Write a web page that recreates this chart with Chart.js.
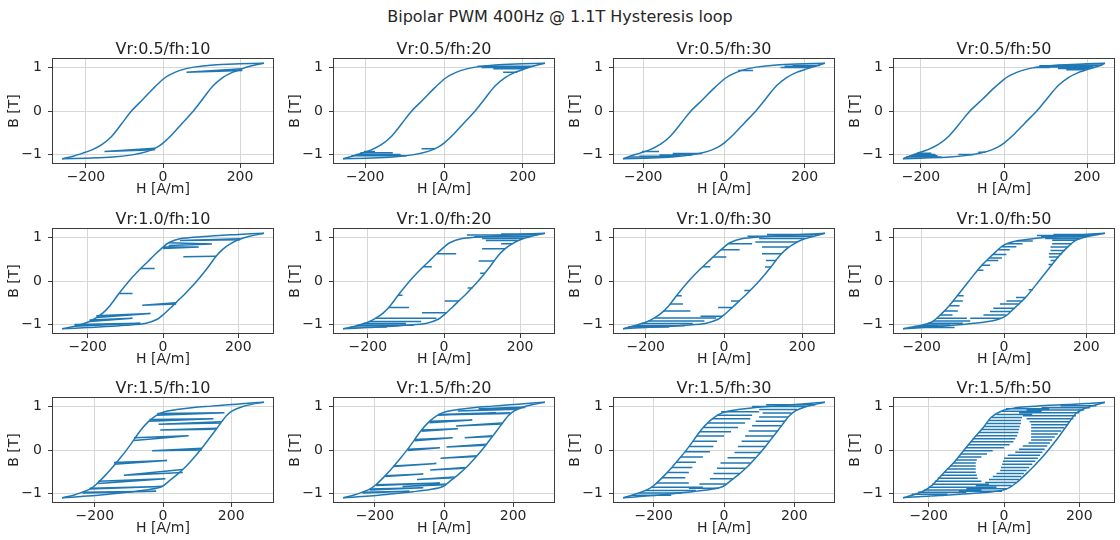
<!DOCTYPE html>
<html>
<head>
<meta charset="utf-8">
<title>Bipolar PWM 400Hz @ 1.1T Hysteresis loop</title>
<script src="https://cdn.jsdelivr.net/npm/chart.js@4.4.1/dist/chart.umd.min.js"></script>
<style>
  html, body { margin: 0; padding: 0; background: #fff; }
  body { width: 1120px; height: 540px; position: relative; overflow: hidden; font-family: "DejaVu Sans", sans-serif; }
  #suptitle { position: absolute; left: 0; top: 8px; width: 1120px; text-align: center; font-size: 16px; line-height: 18px; color: #262626; }
  .panel { position: absolute; }
</style>
</head>
<body>
<div id="suptitle">Bipolar PWM 400Hz @ 1.1T Hysteresis loop</div>
<script>
// ---------------- grid of runs ----------------
const vrLevels = ['0.5', '1.0', '1.5'];
const fhLevels = [10, 20, 30, 50];
const peakB = 1.1;                                   // loop tip flux density [T]
const peakH = [[262, 256, 250, 243],                 // loop tip field strength [A/m]
               [268, 265, 258, 245],
               [296, 292, 287, 268]];
const xTicks = [-200, 0, 200];
const yTicks = [-1, 0, 1];

// ---------------- major loop branches (H [A/m], B [T]) ----------------
const rise05H = [-200, -130, -80, -40, -15, 0, 25, 50, 79, 105, 130, 155, 180, 205, 230];
const rise05B = [-1.085, -1.06, -1.01, -0.93, -0.83, -0.74, -0.53, -0.28, 0, 0.30, 0.58, 0.77, 0.89, 0.97, 1.04];
const fall05H = [200, 130, 80, 42, 17, 0, -25, -52, -82, -108, -133, -158, -183, -208, -233];
const fall05B = [1.085, 1.06, 1.01, 0.93, 0.83, 0.73, 0.52, 0.27, 0, -0.30, -0.58, -0.77, -0.89, -0.97, -1.04];

const rise10H = [-200, -150, -100, -45, -15, 0, 20, 40, 60, 90, 118, 141, 160, 180, 200, 230];
const rise10B = [-1.07, -1.05, -1.02, -0.97, -0.88, -0.78, -0.62, -0.45, -0.28, 0, 0.30, 0.57, 0.74, 0.86, 0.95, 1.03];
const fall10H = [200, 150, 100, 45, 15, 0, -20, -40, -60, -90, -118, -141, -160, -180, -200, -230];
const fall10B = [1.07, 1.05, 1.02, 0.97, 0.88, 0.78, 0.62, 0.45, 0.28, 0, -0.30, -0.57, -0.74, -0.86, -0.95, -1.03];

const rise10nH = [-200, -150, -100, -60, -30, -10, 5, 20, 35, 55, 85, 110, 133, 150, 173, 200];
const rise10nB = [-1.07, -1.04, -1.0, -0.96, -0.92, -0.87, -0.80, -0.67, -0.54, -0.35, 0, 0.30, 0.57, 0.74, 0.93, 1.02];
const fall10nH = [200, 150, 100, 60, 30, 10, -5, -20, -35, -55, -85, -110, -133, -150, -173, -200];
const fall10nB = [1.07, 1.04, 1.0, 0.96, 0.92, 0.87, 0.80, 0.67, 0.54, 0.35, 0, -0.30, -0.57, -0.74, -0.93, -1.02];

const rise15H = [-240, -190, -140, -90, -40, -3, 20, 42, 62, 88, 114, 140, 160, 173, 186, 203, 230, 260];
const rise15B = [-1.07, -1.04, -1.0, -0.96, -0.91, -0.84, -0.70, -0.56, -0.42, -0.20, 0.04, 0.31, 0.52, 0.66, 0.79, 0.90, 0.99, 1.05];
const fall15H = [240, 190, 140, 90, 40, 5, -17, -42, -65, -85, -105, -125, -146, -170, -197, -215, -236, -262];
const fall15B = [1.07, 1.04, 1.01, 0.98, 0.93, 0.88, 0.81, 0.66, 0.46, 0.24, 0.02, -0.18, -0.38, -0.59, -0.80, -0.90, -0.97, -1.04];

const rise15nH = [-220, -170, -120, -70, -30, 6, 32, 66, 95, 118, 145, 170, 191, 215, 240];
const rise15nB = [-1.07, -1.05, -1.02, -0.99, -0.96, -0.90, -0.76, -0.49, -0.23, 0, 0.30, 0.60, 0.84, 0.96, 1.03];
const fall15nH = [220, 170, 120, 70, 30, -3, -33, -55, -80, -106, -130, -158, -192, -215, -240];
const fall15nB = [1.07, 1.05, 1.03, 1.0, 0.97, 0.91, 0.76, 0.52, 0.27, 0, -0.26, -0.51, -0.82, -0.95, -1.03];

// ---------------- PWM minor loops ----------------
// open loops: [H start, B start, H turn, B turn, B return]
// thin loops: [B, H start, H turn]
const loopsV05F10 = [[206, 0.97, 61, 0.89, 0.93], [-20, -0.86, -152, -0.93, -0.89]];
const loopsV05F20 = [[0.97, 205, 125], [1.0, 215, 95], [1.03, 228, 85], [0.89, 186, 150], [-0.87, -22, -57],
  [-0.93, -203, -175], [-0.96, -212, -130], [-1.0, -224, -110], [-1.03, -235, -95]];
const loopsV05F30 = [[0.93, 35, 72], [1.0, 215, 140], [1.03, 228, 150], [1.05, 238, 170], [-0.93, -203, -161],
  [-0.98, -55, -127], [-1.01, -80, -160], [-1.04, -110, -210], [-1.06, -238, -140]];
const loopsV05F50 = [[0.95, 195, 150], [0.98, 207, 130], [1.01, 215, 100], [1.04, 228, 85], [1.06, 236, 160], [1.0, 72, 110],
  [-1.06, -236, -150], [-1.03, -228, -160], [-1.0, -218, -165], [-0.97, -210, -175], [-1.0, -72, -110], [-0.95, -45, -62]];

const loopsV10F10 = [[15, 0.88, 130, 0.85, 0.82], [0, 0.78, 95, 0.78, 0.75], [205, 0.97, 45, 0.93, 0.95],
  [141, 0.57, 54, 0.56, 0.57], [-59, 0.29, -22, 0.29, 0.29], [-116, -0.29, -81, -0.29, -0.29],
  [35, -0.50, -55, -0.56, -0.53], [-177, -0.84, -33, -0.75, -0.80], [-195, -0.93, -81, -0.86, -0.90],
  [-235, -1.04, -60, -0.97, -1.0]];
const loopsV10F20 = [[0.63, -19, 32], [0.33, -55, -32], [-0.33, -121, -109], [-0.61, -145, -92], [-0.86, -180, -20],
  [-0.93, -196, -60], [-0.98, -212, -100], [-1.02, -228, -80], [-1.06, -245, -150],
  [0.74, 160, 100], [0.46, 132, 91], [0.18, 107, 95], [-0.16, 75, 62], [-0.46, 40, 2], [-0.73, 5, -58],
  [0.86, 180, 150], [0.93, 193, 110], [0.98, 208, 100], [1.02, 225, 80], [1.06, 245, 60], [1.08, 255, 150]];
const loopsV10F30 = [[0.86, 12, 72], [0.72, -8, 40], [0.55, -28, 6], [0.33, -55, -35], [-0.34, -122, -108],
  [-0.53, -138, -105], [-0.69, -155, -86], [-0.85, -178, -20], [-0.92, -193, -50], [-0.98, -210, -80],
  [-1.03, -230, -100], [-1.06, -245, -140],
  [0.98, 208, 90], [0.90, 188, 80], [0.78, 165, 97], [0.63, 147, 97], [0.47, 133, 107], [0.32, 120, 105],
  [-0.22, 67, 52], [-0.46, 40, 18], [-0.61, 22, -15], [-0.81, -5, -60], [1.03, 228, 60], [1.07, 245, 110]];
const loopsV10F50 = [[0.92, 30, 70], [0.86, 8, 45], [0.79, -6, 30], [0.72, -14, 14], [0.61, -27, 6], [0.53, -36, -5],
  [0.47, -42, -14], [0.36, -54, -34], [0.25, -63, -50],
  [-0.34, -113, -98], [-0.46, -124, -100], [-0.57, -133, -108], [-0.69, -145, -112], [-0.78, -155, -125],
  [-0.86, -164, -90], [-0.92, -172, -82], [-0.97, -185, -100], [-1.01, -198, -130], [-1.05, -220, -160], [-1.07, -232, -120],
  [0.94, 175, 117], [0.86, 164, 117], [0.78, 156, 113], [0.70, 148, 113], [0.63, 141, 109], [0.55, 133, 109],
  [0.47, 126, 113], [0.38, 118, 108], [0.98, 185, 100], [1.02, 200, 90], [1.05, 218, 80], [1.07, 230, 120],
  [-0.20, 70, 60], [-0.38, 53, 29], [-0.46, 45, 6], [-0.53, 37, -10], [-0.63, 24, -26], [-0.70, 16, -34],
  [-0.78, 6, -50], [-0.86, -8, -82]];

const loopsV15F10 = [[-17, 0.84, 180, 0.86, 0.80], [-40, 0.70, 148, 0.72, 0.66], [170, 0.65, -13, 0.59, 0.62],
  [158, 0.50, -8, 0.46, 0.48], [-85, 0.22, 75, 0.33, 0.28], [114, 0.04, -32, -0.02, 0.0],
  [-144, -0.33, 12, -0.24, -0.29], [58, -0.45, -115, -0.58, -0.52], [-190, -0.77, 7, -0.66, -0.72],
  [-215, -0.90, -3, -0.84, -0.88], [-236, -0.97, -20, -0.95, -0.99]];
const loopsV15F20 = [[-17, 0.82, 150, 0.86, 0.80], [-42, 0.66, 82, 0.69, 0.63], [-65, 0.46, 40, 0.49, 0.43],
  [-85, 0.24, 25, 0.28, 0.21], [-105, 0.02, -12, 0.05, -0.01], [-146, -0.38, -22, -0.31, -0.37],
  [-170, -0.59, -60, -0.55, -0.61], [-197, -0.80, -12, -0.76, -0.82], [-215, -0.90, -60, -0.87, -0.92],
  [-236, -0.97, -100, -0.95, -0.99],
  [236, 0.98, 100, 0.95, 0.99], [215, 0.94, 40, 0.90, 0.95], [192, 0.84, 10, 0.81, 0.86], [168, 0.60, 35, 0.55, 0.62],
  [140, 0.31, 60, 0.28, 0.33], [121, 0.11, 7, 0.07, 0.13], [95, -0.15, -10, -0.19, -0.13], [62, -0.42, -40, -0.46, -0.40],
  [30, -0.64, -78, -0.68, -0.62], [5, -0.80, -120, -0.84, -0.78]];
const loopsV15F30 = [[0.88, -8, 100], [0.80, -20, 80], [0.72, -33, 75], [0.62, -47, 60], [0.52, -58, 40], [0.42, -69, 20],
  [0.32, -78, 0], [0.20, -89, -20], [0.08, -99, -30], [-0.04, -111, -40], [-0.16, -123, -60], [-0.28, -136, -80],
  [-0.40, -148, -90], [-0.52, -162, -100], [-0.64, -176, -110], [-0.76, -192, -100], [-0.86, -208, -60],
  [-0.93, -225, -80], [-0.99, -242, -120], [-1.04, -262, -150],
  [1.04, 260, 120], [1.0, 232, 80], [0.93, 208, 100], [0.85, 192, 110], [0.76, 182, 100], [0.66, 173, 90],
  [0.56, 164, 80], [0.44, 154, 70], [0.32, 141, 60], [0.20, 128, 50], [0.08, 118, 40], [-0.06, 106, 30],
  [-0.18, 91, 10], [-0.30, 76, -10], [-0.42, 62, -20], [-0.54, 45, -30], [-0.66, 25, -40], [-0.78, 5, -70],
  [-0.88, -15, -100]];
const loopsV15F50 = [[0.95, 5, 120], [0.89, -5, 100], [0.82, -20, 75], [0.75, -33, 48], [0.68, -40, 45], [0.61, -46, 45],
  [0.54, -53, 42], [0.47, -60, 40], [0.40, -67, 38], [0.33, -75, 35], [0.26, -83, 30], [0.19, -90, 25],
  [0.12, -96, 15], [0.05, -102, 0], [-0.02, -108, -30], [-0.09, -115, -45], [-0.16, -122, -60], [-0.23, -128, -72],
  [-0.30, -135, -75], [-0.37, -143, -75], [-0.44, -152, -75], [-0.51, -160, -75], [-0.58, -168, -72],
  [-0.65, -176, -70], [-0.72, -184, -60], [-0.79, -191, -40], [-0.86, -200, -20], [-0.92, -212, -60],
  [-0.97, -228, -100], [-1.02, -245, -150],
  [1.02, 245, 150], [0.97, 228, 100], [0.92, 212, 60], [0.86, 200, 40], [0.79, 191, 50], [0.72, 184, 60],
  [0.65, 176, 68], [0.58, 168, 72], [0.51, 160, 72], [0.44, 152, 72], [0.37, 143, 72], [0.30, 135, 72],
  [0.23, 128, 72], [0.16, 122, 65], [0.09, 115, 50], [0.02, 108, 40], [-0.05, 102, 30], [-0.12, 96, 10],
  [-0.19, 90, 0], [-0.26, 83, -3], [-0.33, 75, -5], [-0.40, 67, -8], [-0.47, 60, -10], [-0.54, 53, -20],
  [-0.61, 46, -30], [-0.68, 40, -40], [-0.75, 33, -50], [-0.82, 20, -75], [-0.89, 8, -100], [-0.95, -5, -120]];

// ---------------- which branch set / loop set belongs to which panel ----------------
const shapes = [
  [rise05H, rise05B, fall05H, fall05B],
  [rise10H, rise10B, fall10H, fall10B],
  [rise10nH, rise10nB, fall10nH, fall10nB],
  [rise15H, rise15B, fall15H, fall15B],
  [rise15nH, rise15nB, fall15nH, fall15nB]
];
const shapeOf = [[0, 0, 0, 0], [1, 1, 1, 2], [3, 3, 3, 4]];
const loopSets = [
  [loopsV05F10, loopsV05F20, loopsV05F30, loopsV05F50],
  [loopsV10F10, loopsV10F20, loopsV10F30, loopsV10F50],
  [loopsV15F10, loopsV15F20, loopsV15F30, loopsV15F50]
];

// ---------------- look ----------------
const FONT = '"DejaVu Sans", sans-serif';
const COL = { text: '#262626', line: '#1f77b4', grid: '#d6d6d6', frame: '#3c3c3c' };
const L = {
  lefts: [52, 333, 613, 893], tops: [58, 228, 397],
  w: 222, h: 106, axW: 52, titleH: 30, axH: 40, padR: 6
};

const fmt = v => (v < 0 ? '\u2212' + Math.abs(v) : String(v));

// axes box drawn over the curves
const framePlugin = {
  id: 'axesFrame',
  afterDraw(chart) {
    const { ctx, chartArea: a } = chart;
    ctx.save();
    ctx.strokeStyle = COL.frame;
    ctx.lineWidth = 1;
    ctx.strokeRect(Math.round(a.left) + 0.5, Math.round(a.top) + 0.5,
                   Math.round(a.right - a.left) - 1, Math.round(a.bottom - a.top) - 1);
    ctx.restore();
  }
};

function branch(Hs, Bs, tip, startSign) {
  const pts = [{ x: startSign * tip, y: startSign * peakB }];
  for (let i = 0; i < Hs.length; i++) {
    if (Math.abs(Hs[i]) < tip - 12) pts.push({ x: Hs[i], y: Bs[i] });
  }
  pts.push({ x: -startSign * tip, y: -startSign * peakB });
  return pts;
}

function minorLoops(list) {
  const pts = [];
  for (const m of list) {
    if (m.length === 3) {
      pts.push({ x: m[1], y: m[0] }, { x: m[2], y: m[0] }, { x: m[1], y: null });
    } else {
      pts.push({ x: m[0], y: m[1] }, { x: m[2], y: m[3] }, { x: m[0], y: m[4] }, { x: m[0], y: null });
    }
  }
  return pts;
}

function axis(min, max, ticks, label, isX) {
  return {
    type: 'linear', min, max,
    afterBuildTicks: s => { s.ticks = ticks.map(v => ({ value: v })); },
    afterFit: s => { if (isX) s.height = L.axH; else s.width = L.axW; },
    grid: { color: COL.grid, lineWidth: 1, drawTicks: true, tickLength: 4, tickColor: COL.frame, tickWidth: 1 },
    border: { display: false },
    ticks: { color: COL.text, font: { family: FONT, size: 14 }, padding: isX ? 1 : 6, callback: v => fmt(v) },
    title: {
      display: true, text: label, color: COL.text,
      font: { family: FONT, size: 14, lineHeight: 1.2 },
      padding: isX ? { top: 0, bottom: 6 } : { top: 6, bottom: 0 }
    }
  };
}

for (let r = 0; r < 3; r++) {
  for (let c = 0; c < 4; c++) {
    const tip = peakH[r][c];
    const [rH, rB, fH, fB] = shapes[shapeOf[r][c]];
    const rise = branch(rH, rB, tip, -1);
    const fall = branch(fH, fB, tip, 1);
    const minor = minorLoops(loopSets[r][c]);

    const W = L.axW + L.w + L.padR, H = L.titleH + L.h + L.axH;
    const wrap = document.createElement('div');
    wrap.className = 'panel';
    wrap.style.left = (L.lefts[c] - L.axW) + 'px';
    wrap.style.top = (L.tops[r] - L.titleH) + 'px';
    wrap.style.width = W + 'px';
    wrap.style.height = H + 'px';
    const cv = document.createElement('canvas');
    cv.width = W; cv.height = H;
    cv.style.width = W + 'px'; cv.style.height = H + 'px';
    wrap.appendChild(cv);
    document.body.appendChild(wrap);

    const lineStyle = { showLine: true, borderColor: COL.line, pointRadius: 0, spanGaps: false, fill: false };
    new Chart(cv, {
      type: 'scatter',
      data: {
        datasets: [
          Object.assign({ data: rise, borderWidth: 1.5, tension: 0.3 }, lineStyle),
          Object.assign({ data: fall, borderWidth: 1.5, tension: 0.3 }, lineStyle),
          Object.assign({ data: minor, borderWidth: 1.5, tension: 0 }, lineStyle)
        ]
      },
      options: {
        responsive: false, animation: false, devicePixelRatio: 1, events: [],
        layout: { padding: { left: 0, right: L.padR, top: 0, bottom: 0 } },
        plugins: {
          legend: { display: false }, tooltip: { enabled: false },
          title: {
            display: true, fullSize: false, align: 'center',
            text: 'Vr:' + vrLevels[r] + '/fh:' + fhLevels[c], color: COL.text,
            font: { family: FONT, size: 16, weight: 'normal', lineHeight: 1 },
            padding: { top: 14, bottom: 0 }
          }
        },
        scales: {
          x: axis(-tip * 1.1, tip * 1.1, xTicks, 'H [A/m]', true),
          y: axis(-1.22, 1.22, yTicks, 'B [T]', false)
        }
      },
      plugins: [framePlugin]
    });
  }
}
</script>
</body>
</html>
